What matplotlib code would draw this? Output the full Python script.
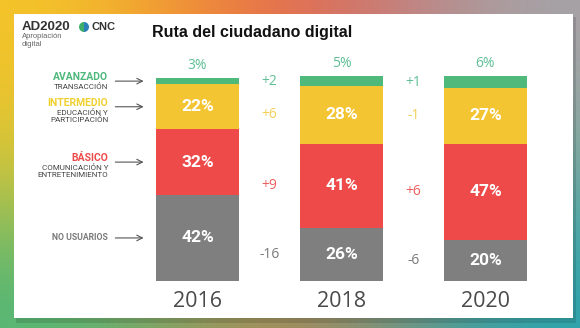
import numpy as np
import matplotlib.pyplot as plt
from matplotlib.patches import Rectangle, Wedge

# Data
years = ["2016", "2018", "2020"]
no_usuarios = [42, 26, 20]
basico = [32, 41, 47]
intermedio = [22, 28, 27]
avanzado = [3, 5, 6]

cambio_avanzado = ["+2", "+1"]
cambio_intermedio = ["+6", "-1"]
cambio_basico = ["+9", "+6"]
cambio_no_usuarios = ["-16", "-6"]

niveles = [
    ("AVANZADO", ["TRANSACCIÓN"]),
    ("INTERMEDIO", ["EDUCACIÓN Y", "PARTICIPACIÓN"]),
    ("BÁSICO", ["COMUNICACIÓN Y", "ENTRETENIMIENTO"]),
    ("NO USUARIOS", []),
]

# Colours
c_green = "#4fb97c"
c_yellow = "#f3c532"
c_red = "#ee4a4a"
c_gray = "#7f7f7f"
c_green_txt = "#5fbf95"
c_yellow_txt = "#f2cf55"
c_red_txt = "#ec5f5f"
c_gray_txt = "#7a7a7a"

W, H = 580, 328
fig = plt.figure(figsize=(W / 100, H / 100), dpi=100)

def px(x, y):
    return x / W, 1 - y / H

# background gradient frame
bg = fig.add_axes([0, 0, 1, 1])
grid = np.array([
    [[245, 200, 40], [238, 80, 70], [165, 165, 170]],
    [[215, 200, 55], [200, 150, 90], [120, 170, 160]],
    [[80, 185, 120], [205, 125, 70], [40, 165, 175]],
]) / 255.0
bg.imshow(grid, extent=[0, W, H, 0], aspect="auto", interpolation="bicubic")
bg.add_patch(Rectangle((16, 17), 560, 306, color="#000000", alpha=0.12, lw=0))
bg.add_patch(Rectangle((14, 14), 559, 304, color="white", lw=0))
bg.set_xlim(0, W)
bg.set_ylim(H, 0)
bg.axis("off")

# logo and title
fig.text(*px(22, 27), "AD2020", fontsize=9.5, fontweight="bold", color="#333333",
         family="Liberation Sans", va="center")
fig.text(*px(22, 37), "Apropiación", fontsize=5.5, color="#666666",
         family="Liberation Sans", va="center")
fig.text(*px(22, 44), "digital", fontsize=5.5, color="#666666",
         family="Liberation Sans", va="center")
bg.add_patch(Wedge((84, 27), 5, 90, 270, color="#3fae6a", lw=0))
bg.add_patch(Wedge((84, 27), 5, 270, 90, color="#2c7fb8", lw=0))
fig.text(*px(91, 27), "CNC", fontsize=8, fontweight="bold", color="#333333",
         family="Liberation Sans", va="center")
fig.text(*px(152, 33), "Ruta del ciudadano digital", fontsize=11.5,
         fontweight="bold", color="#111111", family="Liberation Sans", va="center")

# bars
ax = fig.add_axes([125.5 / W, 47 / H, 432 / W, 205 / H])
ax.set_xlim(-0.5, 2.5)
ax.set_ylim(0, 100)
ax.axis("off")
ax.patch.set_alpha(0)

x = np.arange(len(years))
bw = 0.576
series = [no_usuarios, basico, intermedio, avanzado]
colors = [c_gray, c_red, c_yellow, c_green]
bottom = np.zeros(len(years))
centers = []
for vals, col in zip(series, colors):
    vals = np.array(vals, dtype=float)
    ax.bar(x, vals, bw, bottom=bottom, color=col, lw=0)
    centers.append(bottom + vals / 2)
    if col != c_green:
        for xi, b, v in zip(x, bottom, vals):
            ax.text(xi, b + v / 2, f"{int(v)}%", ha="center", va="center",
                    color="white", fontsize=12.5, fontweight="bold",
                    family="Roboto")
    bottom = bottom + vals

# shadow under bars
ax.bar(x, 1.2, bw * 1.02, bottom=-1.8, color="#cfcfcf", lw=0, alpha=0.8)

# top labels (avanzado)
for xi, tot, v in zip(x, bottom, avanzado):
    ax.text(xi, tot + 6, f"{v}%", ha="center", va="center", color=c_green_txt,
            fontsize=10, family="Open Sans")

# year labels
for xi, yr in zip(x, years):
    ax.text(xi, -10, yr, ha="center", va="center", color="#4a4a4a",
            fontsize=15.5, family="Open Sans")

# change labels between bars
cambios = [cambio_no_usuarios, cambio_basico, cambio_intermedio, cambio_avanzado]
txt_cols = [c_gray_txt, c_red_txt, c_yellow_txt, c_green_txt]
for cen, labs, col in zip(centers, cambios, txt_cols):
    for i, lab in enumerate(labs):
        ax.text(i + 0.5, cen[i + 1], lab, ha="center", va="center",
                color=col, fontsize=10, family="Open Sans")

# left annotations with arrows pointing at 2016 segments
name_cols = [c_green, "#f0d030", c_red, c_gray_txt]
seg_centers = [centers[3][0], centers[2][0], centers[1][0], centers[0][0]]
for (name, subs), col, yc in zip(niveles, name_cols, seg_centers):
    ax.annotate("", xy=(-0.355, yc), xytext=(-0.59, yc),
                arrowprops=dict(arrowstyle="->", color="#555555", lw=0.8),
                annotation_clip=False)
    if subs:
        ax.annotate(name, xy=(-0.62, yc), xytext=(0, 3), textcoords="offset points",
                    ha="right", va="center", color=col, fontsize=7.5,
                    fontweight="bold", family="Roboto", annotation_clip=False)
        for j, s in enumerate(subs):
            ax.annotate(s, xy=(-0.62, yc), xytext=(0, -4 - 5 * j),
                        textcoords="offset points", ha="right", va="center",
                        color="#444444", fontsize=5.8, family="Roboto",
                        annotation_clip=False)
    else:
        ax.annotate(name, xy=(-0.62, yc), ha="right", va="center", color=col,
                    fontsize=6.2, fontweight="bold", family="Roboto",
                    annotation_clip=False)

fig.savefig("out.png", dpi=100)
